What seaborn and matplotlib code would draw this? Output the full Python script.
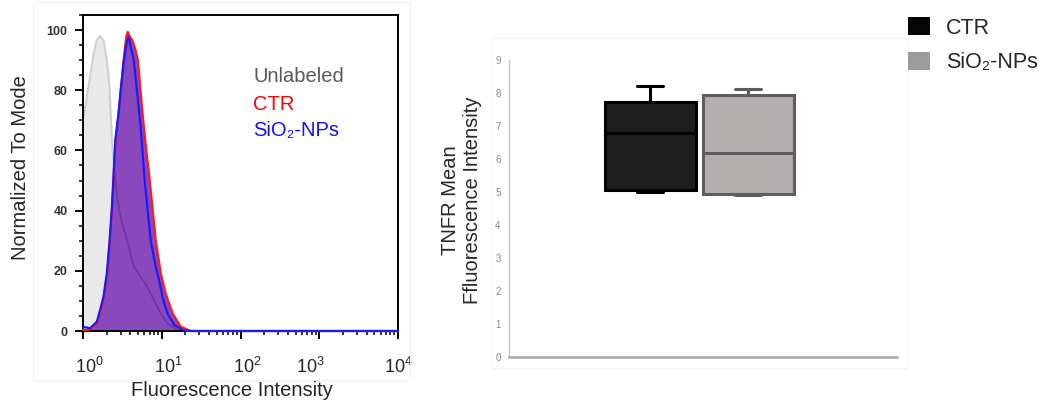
import numpy as np
import pandas as pd
import matplotlib
matplotlib.use("Agg")
import matplotlib.pyplot as plt
import matplotlib.transforms as mtransforms
from matplotlib.patches import Patch, Rectangle
from matplotlib.ticker import MultipleLocator, LogLocator, LogFormatterMathtext, NullFormatter
import seaborn as sns

# --- histogram traces (intensity, % of mode) ---
unlabeled_x = [1.00, 1.17, 1.36, 1.50, 1.65, 1.82, 2.01, 2.18, 2.27, 2.37, 2.51, 2.70,
               2.98, 3.63, 4.42, 5.38, 6.55, 7.94, 9.71, 11.8, 15.8, 20.0, 10000]
unlabeled_y = [70, 81, 92, 96.7, 98, 96.7, 90, 81, 70, 60, 53, 45,
               38, 30.2, 21.4, 18, 14.7, 10.3, 5.9, 2.6, 0.3, 0, 0]

ctr_x = [1.01, 1.23, 1.50, 1.65, 1.82, 2.01, 2.18, 2.33, 2.45, 2.57, 2.82, 3.04, 3.31, 3.55, 3.70,
         3.89, 4.21, 4.57, 4.98, 5.65, 6.24, 6.89, 7.59, 8.38, 9.71, 11.2, 13.7, 17.5, 23.4, 10000]
ctr_y = [0.3, 0.5, 2.5, 6, 10.5, 18, 29, 40, 51, 62, 72, 81, 91, 98, 99.4,
         98, 96.7, 94, 90, 73.4, 62, 52.4, 41.3, 30.2, 19.2, 12.5, 5.9, 1.4, 0, 0]

np_x = [1.01, 1.23, 1.50, 1.65, 1.82, 2.01, 2.18, 2.33, 2.45, 2.57, 2.82, 3.04, 3.31, 3.59, 3.81, 4.07,
        4.42, 4.88, 5.38, 5.69, 6.03, 6.55, 7.23, 8.38, 9.25, 10.2, 11.8, 14.4, 19.5, 25.1, 10000]
np_y = [1.4, 0.9, 3.1, 7, 11.4, 19.2, 30.2, 41.3, 52.4, 63.5, 72, 81, 90, 96, 97.8, 94,
        90, 79, 68, 60, 51, 41.3, 30.2, 21.4, 17, 11.4, 5.9, 2, 0.1, 0, 0]

# --- box plot values (min, Q1, median, Q3, max) ---
groups = ["CTR", "SiO₂-NPs"]
ctr_mfi = [5.0, 5.06, 6.8, 7.72, 8.22]
np_mfi = [4.92, 4.94, 6.18, 7.94, 8.12]

sns.set_style("ticks")
plt.rcParams["font.family"] = ["Liberation Sans", "DejaVu Sans"]
plt.rcParams["mathtext.fontset"] = "custom"
plt.rcParams["mathtext.rm"] = "Liberation Sans"

fig = plt.figure(figsize=(10.4, 4.03), dpi=100)

# faint panel frames
fig.add_artist(Rectangle((33 / 1040, 1 - 380 / 403), 377 / 1040, 378 / 403, transform=fig.transFigure,
                         fill=False, edgecolor="#efefef", lw=0.8))
fig.add_artist(Rectangle((492 / 1040, 1 - 368 / 403), 416 / 1040, 330 / 403, transform=fig.transFigure,
                         fill=False, edgecolor="#f2f2f2", lw=0.8))

# ---------------- left: histogram overlay ----------------
ax1 = fig.add_axes([83 / 1040, 1 - 331 / 403, 315 / 1040, 316 / 403])
ax1.fill_between(unlabeled_x, unlabeled_y, color="#e9e9e9", lw=0, zorder=1)
sns.lineplot(x=unlabeled_x, y=unlabeled_y, ax=ax1, color="#cdcdcd", lw=1.4, zorder=1.5)
purple = ax1.fill_between(ctr_x, ctr_y, color="#8a48bd", lw=0, zorder=2)
# unlabeled trace shows through the purple as a darker line
sns.lineplot(x=unlabeled_x, y=unlabeled_y, ax=ax1, color="#6e3799", lw=1.2, zorder=2.2)
ax1.lines[-1].set_clip_path(purple.get_paths()[0], transform=ax1.transData)
sns.lineplot(x=ctr_x, y=ctr_y, ax=ax1, color="#ff1a1a", lw=1.6, zorder=3)
sns.lineplot(x=np_x, y=np_y, ax=ax1, color="#1a1aff", lw=1.6, zorder=3.2)
for ln in ax1.lines[-2:]:
    ln.set_clip_on(False)

ax1.set_xscale("log")
ax1.set_xlim(1, 1e4)
ax1.set_ylim(0, 105)
ax1.xaxis.set_major_locator(LogLocator(base=10, numticks=10))
ax1.xaxis.set_major_formatter(LogFormatterMathtext())
ax1.xaxis.set_minor_locator(LogLocator(base=10, subs=np.arange(2, 10), numticks=20))
ax1.xaxis.set_minor_formatter(NullFormatter())
ax1.yaxis.set_major_locator(MultipleLocator(20))
ax1.yaxis.set_minor_locator(MultipleLocator(5))
ax1.tick_params(axis="both", which="major", length=6, width=1.4, color="black")
ax1.tick_params(axis="both", which="minor", length=3, width=1.1, color="black")
ax1.tick_params(axis="x", labelsize=13, pad=13)
ax1.tick_params(axis="y", labelsize=9, pad=5)
fig.canvas.draw()
for lab in ax1.get_yticklabels():
    lab.set_fontweight("bold")
    lab.set_color("#333333")
shifts = [15, 6, 7, 7, -9]
for lab, dx in zip(ax1.get_xticklabels(), shifts):
    lab.set_transform(lab.get_transform() + mtransforms.ScaledTranslation(dx / 100, 0, fig.dpi_scale_trans))
for sp in ax1.spines.values():
    sp.set_linewidth(1.4)
    sp.set_color("black")
ax1.set_xlabel("Fluorescence Intensity", fontsize=14.5)
ax1.xaxis.set_label_coords((232 - 83) / 315, -(390 - 331) / 316)
ax1.xaxis.label.set_va("center")
ax1.set_ylabel("Normalized To Mode", fontsize=14.5)
ax1.yaxis.set_label_coords(-(83 - 21) / 315, (331 - 168) / 316)
ax1.yaxis.label.set_va("center")

ax1.text(0.54, 0.804, "Unlabeled", transform=ax1.transAxes, color="#595959", fontsize=14.5, va="center")
ax1.text(0.54, 0.718, "CTR", transform=ax1.transAxes, color="#ff0000", fontsize=14.5, va="center")
ax1.text(0.54, 0.633, "SiO₂-NPs", transform=ax1.transAxes, color="#1010ff", fontsize=14.5, va="center")

# ---------------- right: box plot ----------------
ax2 = fig.add_axes([509 / 1040, 1 - 357 / 403, 388 / 1040, 297 / 403])
df = pd.DataFrame({
    "group": [groups[0]] * len(ctr_mfi) + [groups[1]] * len(np_mfi),
    "mfi": ctr_mfi + np_mfi,
})
box_fill = {groups[0]: "#1e1e1e", groups[1]: "#b3adad"}
edge = {groups[0]: "#000000", groups[1]: "#5e5e5e"}
sns.boxplot(data=df, x="group", y="mfi", hue="group", palette=box_fill, order=groups,
            whis=(0, 100), width=0.93, linewidth=2.2, linecolor="black", legend=False, ax=ax2)
for i, p in enumerate(ax2.patches):
    p.set_edgecolor(edge[groups[i]])
for ln in ax2.lines:
    xd = np.asarray(ln.get_xdata(), dtype=float)
    yd = np.asarray(ln.get_ydata(), dtype=float)
    if len(xd) == 0:
        continue
    if xd.mean() > 0.5:
        ln.set_color(edge[groups[1]])
    # narrower whisker caps
    if len(xd) == 2 and yd[0] == yd[1] and xd[0] != xd[1]:
        c = xd.mean()
        if abs(xd[1] - xd[0]) < 0.8:
            ln.set_xdata([c - 0.13, c + 0.13])

ax2.set_xlim(-1.44, 2.52)
ax2.set_ylim(0, 9)
ax2.set_yticks(range(0, 10))
ax2.set_xticks([])
ax2.set_xlabel("")
ax2.set_ylabel("TNFR Mean\nFfluorescence Intensity", fontsize=14.5)
ax2.yaxis.set_label_coords(-(509 - 462) / 388, (357 - 200) / 297)
ax2.yaxis.label.set_va("center")
ax2.tick_params(axis="y", length=0, labelsize=7, labelcolor="#888888", pad=6)
ax2.spines["top"].set_visible(False)
ax2.spines["right"].set_visible(False)
ax2.spines["left"].set_color("#c4c4c4")
ax2.spines["left"].set_linewidth(1.0)
ax2.spines["bottom"].set_color("#a8a8a8")
ax2.spines["bottom"].set_linewidth(1.8)

handles = [Patch(facecolor="#050505", edgecolor="none"), Patch(facecolor="#9a9c9d", edgecolor="none")]
fig.legend(handles, groups, loc="upper left", bbox_to_anchor=(889 / 1040, 1 + 2 / 403),
           frameon=False, fontsize=15.5, handlelength=1.0, handleheight=0.9,
           handletextpad=0.75, labelspacing=0.6)

fig.savefig("out.png", dpi=100)
